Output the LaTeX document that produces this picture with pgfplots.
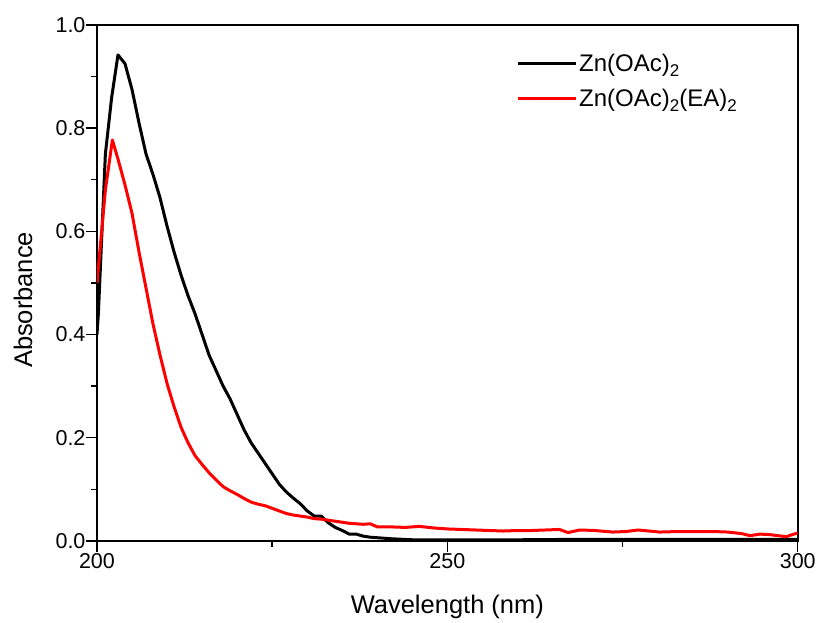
\documentclass[border=0pt]{standalone}
\usepackage{fontspec}
\setmainfont{Liberation Sans}
\usepackage{pgfplots}
\pgfplotsset{compat=1.18}
\newcommand{\sub}[1]{\raisebox{-0.35ex}{\fontsize{17}{18}\selectfont #1}}
\begin{document}
\begin{tikzpicture}
\begin{axis}[
  name=ax,
  scale only axis,
  width=701pt, height=516pt,
  xmin=200, xmax=300, ymin=0, ymax=1.0,
  xtick={200,250,300}, minor xtick={225,275},
  ytick={0,0.2,0.4,0.6,0.8,1.0}, minor ytick={0.1,0.3,0.5,0.7,0.9},
  xtick pos=bottom, ytick pos=left,
  tick align=outside,
  major tick length=11pt, minor tick length=6pt,
  every tick/.style={line width=1.4pt, black},
  axis line style={line width=1.6pt},
  /pgf/number format/assume math mode=true,
  tick label style={font=\fontsize{21.5}{24}\selectfont},
  yticklabel style={/pgf/number format/fixed, /pgf/number format/fixed zerofill, /pgf/number format/precision=1, xshift=3pt},
  xticklabel style={/pgf/number format/1000 sep={}, yshift=2pt},
  scaled y ticks=false,
  xlabel={Wavelength (nm)}, ylabel={Absorbance},
  label style={font=\fontsize{25.5}{28}\selectfont},
  xlabel style={at={(axis description cs:0.5,-0.128)}, anchor=center},
  ylabel style={at={(axis description cs:-0.1056,0.467)}, anchor=center},
  legend style={draw=none, fill=none, at={(rel axis cs:0.598,0.947)}, anchor=north west,
    font=\fontsize{24}{27}\selectfont, row sep=12pt, inner sep=0pt},
  legend cell align=left,
  legend image code/.code={\draw[#1, line width=3pt] (0pt,0pt) -- (58pt,0pt);},
  clip=true,
]
\addplot[black, line width=3pt, line join=round] coordinates {
(200.0,0.40) (200.2,0.44) (201.2,0.75) (202.1,0.86) (203.0,0.942) (204.0,0.925)
(205.0,0.875) (206.0,0.81) (207.0,0.75) (208.0,0.71) (209.0,0.665) (210.0,0.61)
(211.0,0.56) (212.0,0.515) (213.0,0.475) (214.0,0.44) (215.0,0.40) (216.0,0.36)
(217.0,0.33) (218.0,0.30) (219.0,0.275) (220.0,0.245) (221.0,0.215) (222.0,0.19)
(223.0,0.17) (224.0,0.15) (225.0,0.13) (226.0,0.11) (227.0,0.095) (228.0,0.083)
(229.0,0.072) (230.0,0.058) (231.0,0.048) (232.0,0.048) (233.0,0.035) (234.0,0.026)
(235.0,0.020) (236.0,0.013) (237.0,0.013) (238.0,0.009) (239.0,0.007) (240.0,0.006)
(242,0.004) (245,0.002) (250,0.002) (260,0.002) (270,0.003) (280,0.003) (290,0.003) (300,0.003)
};
\addlegendentry{Zn(OAc)\sub{2}}
\addplot[red, line width=3pt, line join=round] coordinates {
(200.0,0.50) (200.2,0.53) (201.2,0.68) (202.2,0.777) (203.0,0.74) (204.0,0.69)
(205.0,0.635) (206.0,0.56) (207.0,0.49) (208.0,0.42) (209.0,0.36) (210.0,0.305)
(211.0,0.26) (212.0,0.22) (213.0,0.19) (214.0,0.165) (215.0,0.148) (216.0,0.132)
(217.0,0.118) (218.0,0.105) (219.0,0.097) (220.0,0.09) (221.0,0.082) (222.0,0.075)
(223.0,0.071) (224.0,0.068) (225.0,0.063) (226.0,0.058) (227.0,0.053) (228.0,0.050)
(229.0,0.048) (230.0,0.046) (231.0,0.043) (232.0,0.042) (234.0,0.038) (236.0,0.034)
(238.0,0.032) (239.0,0.033) (240.0,0.027) (242.0,0.027) (244.0,0.026) (246.0,0.028)
(248.0,0.025) (250.0,0.023) (252.0,0.022) (254.0,0.021) (256.0,0.020) (258.0,0.019)
(260.0,0.020) (262.0,0.020) (264.0,0.021) (266.0,0.022) (267.2,0.016) (268.9,0.021)
(271,0.020) (273.6,0.017) (275.5,0.018) (277.2,0.021) (280.3,0.017) (283,0.018)
(286,0.018) (288,0.018) (290,0.017) (292,0.014) (293.2,0.010) (294.6,0.013)
(296,0.012) (298.4,0.008) (299.2,0.012) (300,0.015)
};
\addlegendentry{Zn(OAc)\sub{2}(EA)\sub{2}}
\end{axis}
\path ([xshift=-97pt,yshift=25pt]ax.north west) rectangle ([xshift=21pt,yshift=-82pt]ax.south east);
\end{tikzpicture}
\end{document}
